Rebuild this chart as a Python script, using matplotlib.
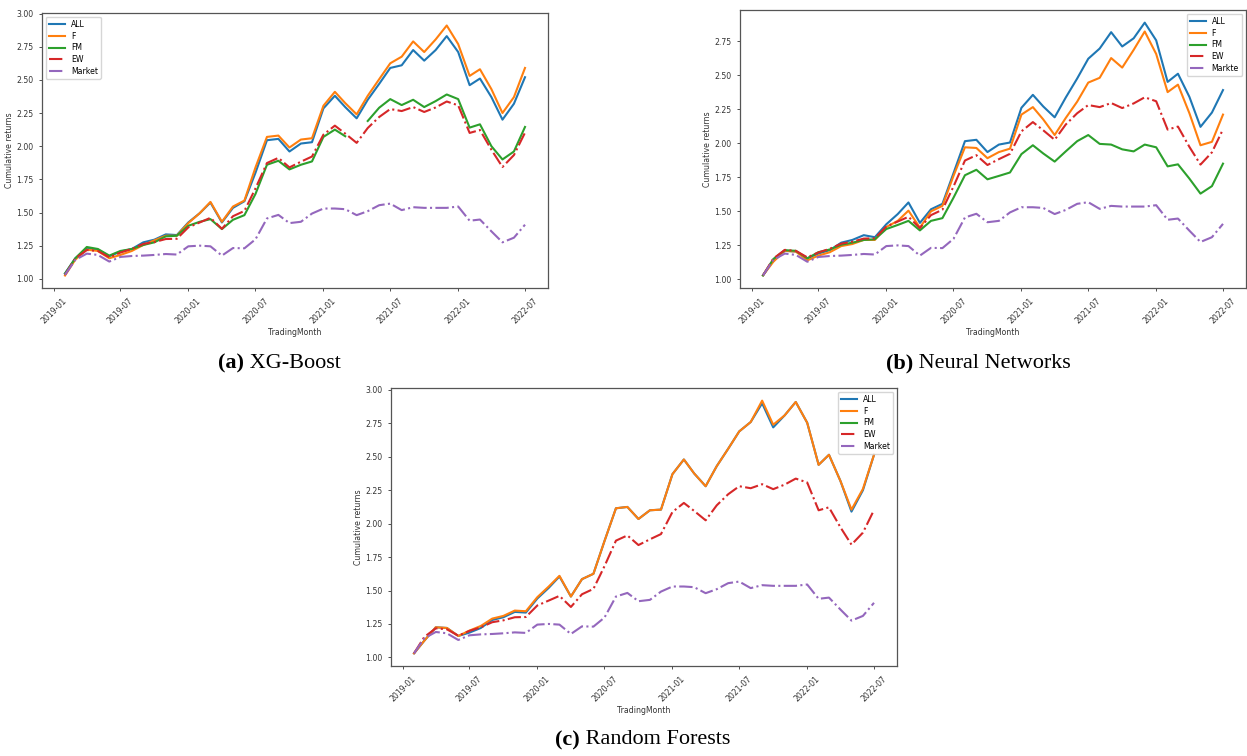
import numpy as np
import pandas as pd
import matplotlib
matplotlib.use('Agg')
import matplotlib.pyplot as plt
import matplotlib.dates as mdates

# meses de negociação (fev/2019 a jul/2022)
months = pd.date_range('2019-02-01', '2022-07-01', freq='MS')

# benchmarks comuns aos três modelos
ew = [1.03, 1.153, 1.217, 1.21, 1.162, 1.198, 1.225, 1.263, 1.277, 1.30, 1.302,
      1.388, 1.425, 1.46, 1.377, 1.472, 1.512, 1.682, 1.873, 1.912, 1.84, 1.883,
      1.922, 2.087, 2.155, 2.095, 2.025, 2.137, 2.22, 2.28, 2.265, 2.295, 2.258,
      2.292, 2.337, 2.308, 2.10, 2.122, 1.973, 1.843, 1.933, 2.102]
market = [1.03, 1.143, 1.19, 1.18, 1.13, 1.165, 1.172, 1.175, 1.18, 1.187, 1.183,
          1.245, 1.25, 1.245, 1.175, 1.232, 1.23, 1.298, 1.455, 1.482, 1.42, 1.43,
          1.492, 1.53, 1.53, 1.525, 1.48, 1.51, 1.555, 1.567, 1.518, 1.54, 1.535,
          1.535, 1.535, 1.545, 1.438, 1.447, 1.358, 1.275, 1.31, 1.408]

# XG-Boost
xgb_all = [1.04, 1.155, 1.23, 1.22, 1.17, 1.205, 1.225, 1.275, 1.295, 1.335, 1.33,
           1.425, 1.495, 1.575, 1.425, 1.535, 1.585, 1.80, 2.045, 2.055, 1.96, 2.02,
           2.03, 2.285, 2.38, 2.295, 2.21, 2.35, 2.47, 2.59, 2.61, 2.725, 2.645,
           2.725, 2.83, 2.71, 2.46, 2.51, 2.37, 2.20, 2.32, 2.52]
xgb_f = [1.025, 1.145, 1.22, 1.21, 1.155, 1.18, 1.21, 1.255, 1.29, 1.325, 1.325,
         1.42, 1.495, 1.58, 1.43, 1.545, 1.59, 1.84, 2.07, 2.08, 1.99, 2.05,
         2.06, 2.305, 2.41, 2.325, 2.24, 2.38, 2.505, 2.625, 2.675, 2.79, 2.71,
         2.805, 2.91, 2.77, 2.53, 2.58, 2.43, 2.25, 2.37, 2.59]
xgb_fm = [1.04, 1.155, 1.24, 1.225, 1.175, 1.21, 1.225, 1.255, 1.275, 1.32, 1.325,
          1.40, 1.43, 1.45, 1.375, 1.445, 1.48, 1.64, 1.86, 1.89, 1.825, 1.86,
          1.885, 2.07, 2.125, 2.075, np.nan, 2.19, 2.29, 2.355, 2.31, 2.35, 2.295,
          2.34, 2.39, 2.355, 2.14, 2.165, 2.00, 1.90, 1.96, 2.145]

# Neural Networks
nn_all = [1.03, 1.14, 1.21, 1.205, 1.155, 1.19, 1.215, 1.27, 1.29, 1.325, 1.31,
          1.405, 1.48, 1.565, 1.415, 1.515, 1.555, 1.78, 2.015, 2.025, 1.935, 1.99,
          2.005, 2.26, 2.355, 2.27, 2.19, 2.335, 2.475, 2.62, 2.695, 2.815, 2.71,
          2.77, 2.885, 2.755, 2.45, 2.51, 2.34, 2.12, 2.225, 2.39]
nn_f = [1.03, 1.13, 1.21, 1.205, 1.14, 1.175, 1.20, 1.245, 1.26, 1.29, 1.29,
        1.385, 1.43, 1.505, 1.38, 1.50, 1.54, 1.76, 1.97, 1.965, 1.89, 1.935,
        1.96, 2.21, 2.265, 2.175, 2.06, 2.185, 2.305, 2.445, 2.48, 2.625, 2.555,
        2.685, 2.82, 2.655, 2.375, 2.43, 2.22, 1.985, 2.01, 2.21]
nn_fm = [1.03, 1.15, 1.215, 1.21, 1.155, 1.20, 1.22, 1.255, 1.27, 1.29, 1.295,
         1.37, 1.40, 1.43, 1.36, 1.43, 1.45, 1.60, 1.765, 1.805, 1.735, 1.76,
         1.785, 1.92, 1.985, 1.925, 1.865, 1.94, 2.015, 2.06, 1.995, 1.99, 1.955,
         1.94, 1.99, 1.97, 1.83, 1.845, 1.74, 1.63, 1.685, 1.85]

# Random Forests (FM sem valores)
rf_all = [1.03, 1.125, 1.225, 1.22, 1.16, 1.185, 1.22, 1.28, 1.30, 1.34, 1.335,
          1.44, 1.52, 1.605, 1.455, 1.585, 1.625, 1.87, 2.115, 2.125, 2.035, 2.10,
          2.105, 2.37, 2.48, 2.375, 2.28, 2.43, 2.56, 2.69, 2.76, 2.90, 2.72,
          2.81, 2.91, 2.755, 2.44, 2.515, 2.32, 2.09, 2.25, 2.515]
rf_f = [1.03, 1.125, 1.225, 1.22, 1.16, 1.20, 1.235, 1.29, 1.31, 1.35, 1.345,
        1.45, 1.53, 1.61, 1.455, 1.585, 1.625, 1.87, 2.115, 2.125, 2.035, 2.10,
        2.105, 2.37, 2.48, 2.375, 2.28, 2.43, 2.56, 2.69, 2.76, 2.92, 2.74,
        2.81, 2.91, 2.755, 2.44, 2.515, 2.32, 2.105, 2.26, 2.515]
rf_fm = [np.nan] * len(rf_f)

W, H = 1247, 756
FS = 5.6
SPINE = '#555555'


def px_rect(left, top, right, bottom):
    """Converte caixa em pixels (origem no topo) para fração da figura."""
    return [left / W, 1 - bottom / H, (right - left) / W, (bottom - top) / H]


def plot_panel(ax, all_, f, fm, market_label, legend_loc):
    ax.plot(months, all_, color='#1f77b4', lw=1.5, label='ALL')
    ax.plot(months, f, color='#ff7f0e', lw=1.5, label='F')
    ax.plot(months, fm, color='#2ca02c', lw=1.5, label='FM')
    ax.plot(months, ew, color='#d62728', lw=1.5, ls='-.', label='EW')
    ax.plot(months, market, color='#9467bd', lw=1.5, ls='-.', label=market_label)

    ax.xaxis.set_major_locator(mdates.MonthLocator(bymonth=[1, 7]))
    ax.xaxis.set_major_formatter(mdates.DateFormatter('%Y-%m'))
    ax.tick_params(axis='both', labelsize=FS, length=2.5, width=0.6,
                   colors='#333333', labelcolor='#333333')
    for lab in ax.get_xticklabels():
        lab.set_rotation(45)
    ax.set_xlabel('TradingMonth', fontsize=FS, color='#333333', labelpad=2)
    ax.set_ylabel('Cumulative returns', fontsize=FS, color='#333333', labelpad=2)
    for sp in ax.spines.values():
        sp.set_color(SPINE)
        sp.set_linewidth(0.9)
    ax.legend(loc=legend_loc, fontsize=FS, handlelength=2.0, borderpad=0.4,
              labelspacing=0.35, framealpha=0.8)


fig = plt.figure(figsize=(W / 100, H / 100), dpi=100)

ax_a = fig.add_axes(px_rect(42, 13, 548, 288))
plot_panel(ax_a, xgb_all, xgb_f, xgb_fm, 'Market', 'upper left')

ax_b = fig.add_axes(px_rect(740, 10, 1246, 288))
plot_panel(ax_b, nn_all, nn_f, nn_fm, 'Markte', 'upper right')

ax_c = fig.add_axes(px_rect(391, 388, 897, 666))
plot_panel(ax_c, rf_all, rf_f, rf_fm, 'Market', 'upper right')

# legendas das subfiguras
captions = [(279, 363, '(a)', 'XG-Boost'),
            (977, 363, '(b)', 'Neural Networks'),
            (643, 740, '(c)', 'Random Forests')]
serif = ['Liberation Serif', 'DejaVu Serif']
for cx, cy, tag, name in captions:
    t = fig.text(cx / W, 1 - cy / H, '(a) ' + name, fontsize=16, family=serif,
                 ha='center', va='center', alpha=0)
    fig.canvas.draw()
    bb = t.get_window_extent()
    t.remove()
    x0 = bb.x0 / fig.dpi / fig.get_figwidth()
    t1 = fig.text(x0, 1 - cy / H, tag, fontsize=16, family=serif,
                  fontweight='bold', ha='left', va='center')
    fig.canvas.draw()
    bb1 = t1.get_window_extent()
    x1 = bb1.x1 / fig.dpi / fig.get_figwidth()
    fig.text(x1, 1 - cy / H, ' ' + name, fontsize=16, family=serif,
             ha='left', va='center')

fig.savefig('out.png', dpi=100, facecolor='white')
